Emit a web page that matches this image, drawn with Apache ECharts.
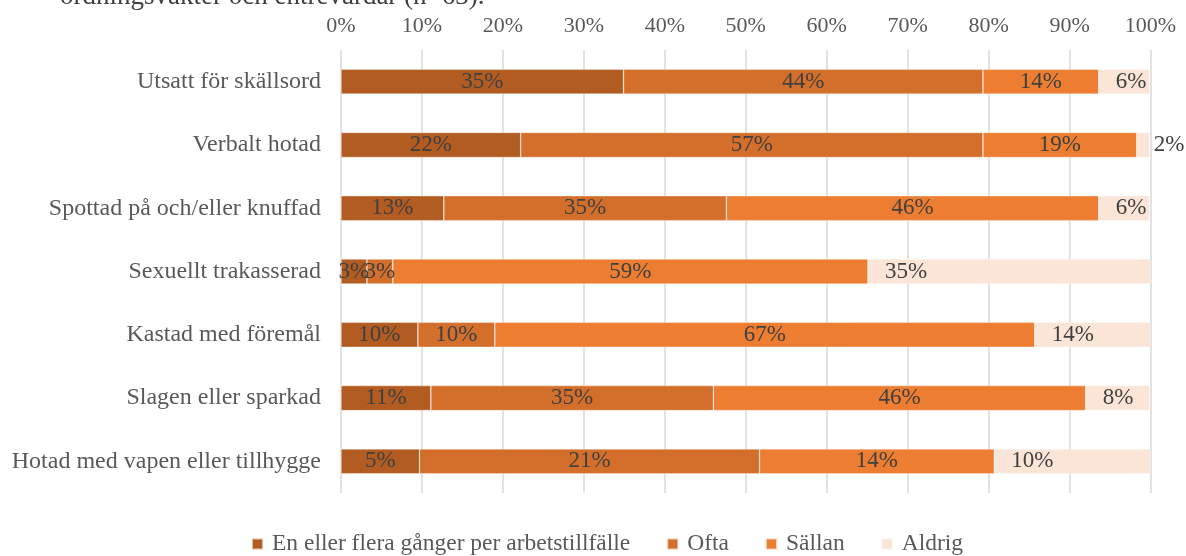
<!DOCTYPE html>
<html>
<head>
<meta charset="utf-8">
<script src="https://cdn.jsdelivr.net/npm/echarts@6/dist/echarts.min.js"></script>
<style>
html,body{margin:0;padding:0;background:#fff;}
#main{width:1186px;height:556px;}
</style>
</head>
<body>
<div id="main"></div>
<script>
var categories=['Utsatt för skällsord','Verbalt hotad','Spottad på och/eller knuffad','Sexuellt trakasserad','Kastad med föremål','Slagen eller sparkad','Hotad med vapen eller tillhygge'];
var seriesNames=['En eller flera gånger per arbetstillfälle','Ofta','Sällan','Aldrig'];
// bar shares (share of the row, %)
var flera=[34.9,22.2,12.7,3.2,9.5,11.1,9.7];
var ofta=[44.4,57.1,34.9,3.2,9.5,34.9,42.0];
var sallan=[14.3,19.0,46.0,58.7,66.7,46.0,29.0];
var aldrig=[6.3,1.6,6.3,34.9,14.3,7.9,19.3];
// printed data labels
var fleraLbl=[35,22,13,3,10,11,5];
var oftaLbl=[44,57,35,3,10,35,21];
var sallanLbl=[14,19,46,59,67,46,14];
var aldrigLbl=[6,2,6,35,14,8,10];
var xTicks=[0,10,20,30,40,50,60,70,80,90,100];
var colors=['#B35C22','#D46F2B','#ED7D31','#FBE5D6'];
var titleText='ordningsvakter och entrevärdar (n=63).';

var font='"Liberation Serif","Times New Roman",serif';
var chart=echarts.init(document.getElementById('main'));

function mk(name,vals,lbls,color,pos,dist){
    return {
        name:name,type:'bar',stack:'tot',barWidth:25,
        itemStyle:{color:color,borderColor:'rgba(255,255,255,0.6)',borderWidth:0.6},
        data:vals,
        label:{show:true,position:pos,distance:dist,color:'#404040',fontFamily:font,fontSize:23,
            formatter:function(p){return lbls[p.dataIndex]+'%';}},
        emphasis:{disabled:true}
    };
}

chart.setOption({
    animation:false,
    color:colors,
    title:{text:titleText,left:55,top:-22,textStyle:{fontFamily:font,fontSize:27,fontWeight:'normal',color:'#404040'}},
    grid:{left:341,right:35.5,top:50,bottom:63},
    legend:{top:527,left:246,itemWidth:11,itemHeight:11,itemGap:36,icon:'rect',
        textStyle:{fontFamily:font,fontSize:23.5,color:'#595959',padding:[0,0,0,4]},data:seriesNames},
    xAxis:{type:'value',position:'top',min:0,max:100,interval:10,
        axisLine:{show:false},axisTick:{show:false},
        splitLine:{lineStyle:{color:'#D9D9D9',width:1.5}},
        axisLabel:{fontFamily:font,fontSize:22,color:'#595959',margin:13,
            formatter:function(v){return xTicks.indexOf(v)>=0?v+'%':'';}}},
    yAxis:{type:'category',inverse:true,data:categories,
        axisLine:{show:false},axisTick:{show:false},
        axisLabel:{fontFamily:font,fontSize:24,color:'#595959',margin:20}},
    series:[
        mk(seriesNames[0],flera,fleraLbl,colors[0],'inside',5),
        mk(seriesNames[1],ofta,oftaLbl,colors[1],'inside',5),
        mk(seriesNames[2],sallan,sallanLbl,colors[2],'inside',5),
        mk(seriesNames[3],aldrig,aldrigLbl,colors[3],'insideLeft',17)
    ]
});
</script>
</body>
</html>
